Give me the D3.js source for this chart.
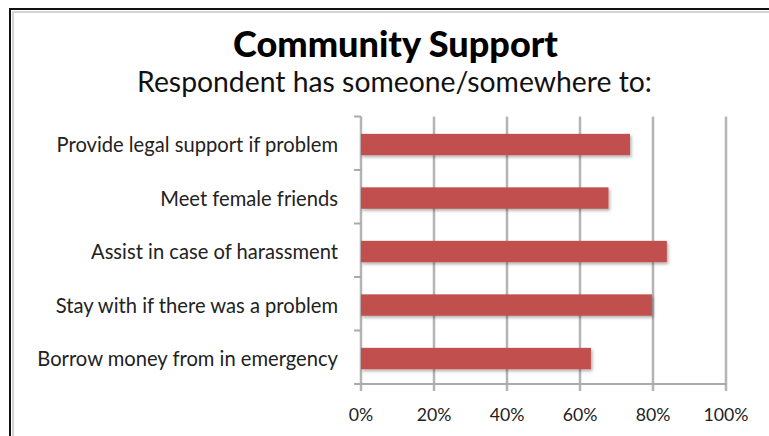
<!DOCTYPE html>
<html><head><meta charset="utf-8">
<script src="https://cdn.jsdelivr.net/npm/d3@7"></script>
<style>body{margin:0;background:#fff;} svg{display:block}</style>
</head><body><svg id="c" width="769" height="436"></svg>
<script>
const title = "Community Support";
const subtitle = "Respondent has someone/somewhere to:";
const categories = ["Provide legal support if problem","Meet female friends","Assist in case of harassment","Stay with if there was a problem","Borrow money from in emergency"];
const values = [73.7, 67.8, 83.8, 79.7, 63.0];
const xTicks = [0,20,40,60,80,100];

const svg = d3.select("#c");
const font = "Lato, 'Open Sans', sans-serif";

function fitSize(text, weight, target){
  const t = svg.append("text").attr("font-family",font).attr("font-weight",weight).attr("font-size",100).text(text);
  const w = t.node().getComputedTextLength();
  t.remove();
  return 100*target/w;
}

// frame
svg.append("rect").attr("x",13).attr("y",12).attr("width",800).attr("height",500)
  .attr("fill","none").attr("stroke","#d4d4d4").attr("stroke-width",2);
svg.append("rect").attr("x",10).attr("y",9).attr("width",800).attr("height",500)
  .attr("fill","none").attr("stroke","#111").attr("stroke-width",2);

const x = d3.scaleLinear().domain([0,100]).range([361,726]);
const y = d3.scaleBand().domain(categories).range([116.5,384]).paddingInner(0.6).paddingOuter(0.3);

// gridlines
svg.append("g").selectAll("line").data(xTicks).join("line")
  .attr("x1",d=>x(d)).attr("x2",d=>x(d)).attr("y1",116.5).attr("y2",391)
  .attr("stroke","#b4b4b4").attr("stroke-width",2.5);

// axis lines
svg.append("line").attr("x1",354).attr("x2",x(100)+1).attr("y1",384).attr("y2",384)
  .attr("stroke","#aaaaaa").attr("stroke-width",2);
const step = y.step();
const bounds = d3.range(categories.length+1).map(i=>116.5+i*step);
svg.append("g").selectAll("line").data(bounds).join("line")
  .attr("x1",354).attr("x2",361).attr("y1",d=>d).attr("y2",d=>d)
  .attr("stroke","#aaaaaa").attr("stroke-width",2);

// shadow filter
const defs = svg.append("defs");
const f = defs.append("filter").attr("id","sh").attr("x","-5%").attr("y","-30%").attr("width","115%").attr("height","180%");
f.append("feDropShadow").attr("dx",1.5).attr("dy",2).attr("stdDeviation",1.5).attr("flood-color","#000").attr("flood-opacity",0.3);

// bars
svg.append("g").selectAll("rect").data(categories).join("rect")
  .attr("x",x(0)).attr("y",d=>y(d)+1.3).attr("height",y.bandwidth())
  .attr("width",(d,i)=>x(values[i])-x(0))
  .attr("fill","#c0504d").attr("filter","url(#sh)");

// category labels
const catSize = fitSize("Borrow money from in emergency", 400, 301);
svg.append("g").selectAll("text").data(categories).join("text")
  .attr("x",338).attr("y",d=>y(d)+y.bandwidth()/2+2).attr("dy","0.35em")
  .attr("text-anchor","end").attr("font-family",font).attr("font-size",catSize)
  .attr("fill","#222").text(d=>d);

// x tick labels
const tickSize = fitSize("100%", 400, 45);
svg.append("g").selectAll("text").data(xTicks).join("text")
  .attr("x",d=>x(d)).attr("y",415).attr("dy","0.35em").attr("text-anchor","middle")
  .attr("font-family",font).attr("font-size",tickSize).attr("fill","#222")
  .text(d=>d+"%");

// titles
svg.append("text").attr("x",395.5).attr("y",57).attr("text-anchor","middle")
  .attr("font-family",font).attr("font-weight",900).attr("font-size",fitSize(title,900,325))
  .attr("fill","#000").text(title);
svg.append("text").attr("x",394.5).attr("y",92).attr("text-anchor","middle")
  .attr("font-family",font).attr("font-size",fitSize(subtitle,400,515))
  .attr("fill","#111").text(subtitle);
</script></body></html>
